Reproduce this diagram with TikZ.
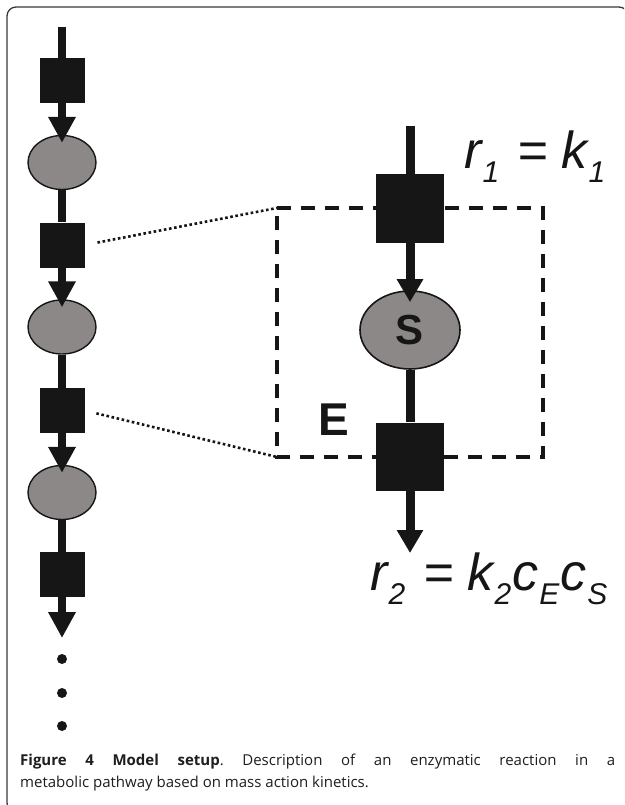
\documentclass[tikz,border=0pt]{standalone}
\usepackage{fontspec}
\newfontfamily\arialf{Liberation Sans}
\newfontfamily\capf{Open Sans}
\usetikzlibrary{arrows.meta,shapes.geometric}
\definecolor{ink}{HTML}{161616}
\definecolor{fillg}{HTML}{8B8887}
\definecolor{capc}{HTML}{1E1E1E}
\newcommand\subtx[1]{\raisebox{-14pt}{\fontsize{30}{30}\selectfont #1}}
\begin{document}
\begin{tikzpicture}[x=1pt,y=-1pt,
  sqL/.style={rectangle,fill=ink,minimum width=45pt,minimum height=45pt,inner sep=0pt},
  elL/.style={ellipse,fill=fillg,draw=ink,line width=1.4pt,minimum width=68pt,minimum height=54pt,inner sep=0pt},
  sqR/.style={rectangle,fill=ink,minimum width=68pt,minimum height=68pt,inner sep=0pt},
  elR/.style={ellipse,fill=fillg,draw=ink,line width=1.6pt,minimum width=100pt,minimum height=78pt,inner sep=0pt,
     font=\arialf\bfseries\fontsize{42}{42}\selectfont,text=ink},
  lineL/.style={draw=ink,line width=7.5pt},
  arrL/.style={-{Triangle[width=26pt,length=26pt]}},
  lineR/.style={draw=ink,line width=9pt},
  arrR/.style={-{Triangle[width=25pt,length=23pt]}},
  dashbox/.style={draw=ink,line width=3.8pt,dash pattern=on 14pt off 10pt},
  dotline/.style={draw=ink,line width=2.6pt,dash pattern=on 2.6pt off 2.6pt},
  bigdot/.style={circle,fill=ink,minimum size=10pt,inner sep=0pt},
  eqtext/.style={anchor=base west,inner sep=0pt,text=ink,font=\arialf\itshape\fontsize{52}{52}\selectfont},
  captext/.style={anchor=base west,inner sep=0pt,text=capc,font=\capf\fontsize{15}{18}\selectfont},
  frame/.style={draw=ink!85,line width=1.3pt,rounded corners=9pt}
]
\useasboundingbox (0,0) rectangle (624,805);
\begin{scope}
\clip (0,0) rectangle (624,805);
\draw[frame] (7,7) rectangle (628,812);
\end{scope}

% dashed enzyme box (behind the squares)
\coordinate (boxTL) at (277,208);
\coordinate (boxBL) at (277,457);
\coordinate (boxBR) at (543,457);
\coordinate (boxTR) at (543,208);
\draw[dashbox] (boxTL) -- (boxTR) -- (boxBR) -- (boxBL) -- cycle;

% left chain
\node[sqL] (a1) at (62,80.5) {};
\node[elL] (b1) at (62,162.5) {};
\node[sqL] (a2) at (62,245) {};
\node[elL] (b2) at (62,327) {};
\node[sqL] (a3) at (62,410.5) {};
\node[elL] (b3) at (62,492.5) {};
\node[sqL] (a4) at (62,574.5) {};
\coordinate (topL) at (62,27);
\coordinate (endL) at (62,638);
\draw[lineL] (topL) -- (a1.north);
\draw[lineL,arrL,shorten >=-8pt] (a1.south) -- (b1.north);
\draw[lineL] (b1.south) -- (a2.north);
\draw[lineL,arrL,shorten >=-8pt] (a2.south) -- (b2.north);
\draw[lineL] (b2.south) -- (a3.north);
\draw[lineL,arrL,shorten >=-8pt] (a3.south) -- (b3.north);
\draw[lineL] (b3.south) -- (a4.north);
\draw[lineL,arrL] (a4.south) -- (endL);
\node[bigdot] (d1) at (62,659) {};
\node[bigdot] (d2) at (62,693) {};
\node[bigdot] (d3) at (62,726) {};

% zoom lines
\draw[dotline,shorten <=13pt] (a2.east) -- (boxTL);
\draw[dotline,shorten <=12pt] (a3.east) -- (boxBL);

% right detail
\node[sqR] (p1) at (410,208.5) {};
\node[elR] (S) at (410,330) {S};
\node[sqR] (p2) at (410,456.5) {};
\coordinate (topR) at (410,126);
\coordinate (endR) at (410,553);
\draw[lineR] (topR) -- (p1.north);
\draw[lineR,arrR,shorten >=-12pt] (p1.south) -- (S.north);
\draw[lineR] (S.south) -- (p2.north);
\draw[lineR,arrR] (p2.south) -- (endR);

\node[anchor=base west,inner sep=0pt,text=ink,font=\arialf\bfseries\fontsize{46}{46}\selectfont] (E) at (318,435) {E};

\node[eqtext] (r1) at (464,168) {r\kern1pt\subtx{1}\hspace{18pt}=\hspace{14pt}k\kern1pt\subtx{1}};
\node[eqtext] (r2) at (370,590) {r\kern1pt\subtx{2}\hspace{18pt}=\hspace{14pt}k\kern1pt\subtx{2}\kern1pt c\kern1pt\subtx{E}\kern1pt c\kern1pt\subtx{S}};

% caption
\node[captext] (cap1) at (20,765) {\frenchspacing\makebox[595pt][s]{\textbf{Figure 4 Model setup}. Description of an enzymatic reaction in a}};
\node[captext] (cap2) at (20,787) {metabolic pathway based on mass action kinetics.};
\end{tikzpicture}
\end{document}
